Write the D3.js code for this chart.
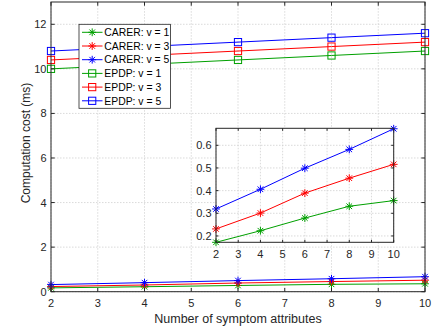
<!DOCTYPE html>
<html>
<head>
<meta charset="utf-8">
<script src="https://cdn.jsdelivr.net/npm/d3@7"></script>
<style>
  html, body { margin: 0; padding: 0; background: #fff; }
  svg { display: block; font-family: "Liberation Sans", Arial, sans-serif; }
</style>
</head>
<body>
<svg id="chart" width="442" height="329"></svg>
<script>
// attribute counts on the x axis
const attrs = [2, 4, 6, 8, 10];
// computation cost (ms)
const carerV1 = [0.172, 0.223, 0.279, 0.331, 0.356];
const carerV3 = [0.231, 0.301, 0.389, 0.455, 0.516];
const carerV5 = [0.319, 0.406, 0.499, 0.582, 0.673];
const epdpV1 = [10.0, 10.2, 10.4, 10.6, 10.8];
const epdpV3 = [10.4, 10.6, 10.8, 11.0, 11.2];
const epdpV5 = [10.8, 11.0, 11.2, 11.4, 11.6];

const xTicks = [2, 3, 4, 5, 6, 7, 8, 9, 10];
const yTicks = [0, 2, 4, 6, 8, 10, 12];
const insetYTicks = [0.2, 0.3, 0.4, 0.5, 0.6];

const GREEN = '#00a000', RED = '#ff0000', BLUE = '#0000ff';
const series = [
  { name: 'CARER: v = 1', vals: carerV1, color: GREEN, mark: 'star' },
  { name: 'CARER: v = 3', vals: carerV3, color: RED, mark: 'star' },
  { name: 'CARER: v = 5', vals: carerV5, color: BLUE, mark: 'star' },
  { name: 'EPDP: v = 1', vals: epdpV1, color: GREEN, mark: 'square' },
  { name: 'EPDP: v = 3', vals: epdpV3, color: RED, mark: 'square' },
  { name: 'EPDP: v = 5', vals: epdpV5, color: BLUE, mark: 'square' }
];

const svg = d3.select('#chart');
const AX = '#262626';

function starPath(r) {
  const d = r * 0.72;
  return `M${-r},0L${r},0M0,${-r}L0,${r}M${-d},${-d}L${d},${d}M${-d},${d}L${d},${-d}`;
}

function drawMarker(g, s) {
  if (s.mark === 'star') {
    g.append('path').attr('d', starPath(3.9)).attr('stroke', s.color).attr('stroke-width', 1).attr('fill', 'none');
  } else {
    g.append('rect').attr('x', -3.6).attr('y', -3.6).attr('width', 7.2).attr('height', 7.2)
      .attr('fill', 'none').attr('stroke', s.color).attr('stroke-width', 1);
  }
}

function drawMarks(g, s, x, y) {
  const line = d3.line().x((d, i) => x(attrs[i])).y(d => y(d));
  g.append('path').attr('d', line(s.vals)).attr('fill', 'none')
    .attr('stroke', s.color).attr('stroke-width', 1);
  g.selectAll(null).data(s.vals).enter().append('g')
    .attr('transform', (d, i) => `translate(${x(attrs[i])},${y(d)})`)
    .each(function () { drawMarker(d3.select(this), s); });
}

// dotted grid
function drawGrid(g, x, y, xt, yt) {
  const [x0, x1] = x.range(), [y0, y1] = y.range();
  xt.forEach(t => g.append('line').attr('x1', x(t)).attr('x2', x(t)).attr('y1', y0).attr('y2', y1)
    .attr('stroke', '#d0d0d0').attr('stroke-width', 0.8).attr('stroke-dasharray', '1.5,1.5'));
  yt.forEach(t => g.append('line').attr('x1', x0).attr('x2', x1).attr('y1', y(t)).attr('y2', y(t))
    .attr('stroke', '#d0d0d0').attr('stroke-width', 0.8).attr('stroke-dasharray', '1.5,1.5'));
}

function drawBox(g, x, y, xt, yt, yFmt, tl, fs) {
  const [x0, x1] = x.range(), [y0, y1] = y.range();
  xt.forEach(t => {
    g.append('line').attr('x1', x(t)).attr('x2', x(t)).attr('y1', y0).attr('y2', y0 - tl).attr('stroke', AX);
    g.append('line').attr('x1', x(t)).attr('x2', x(t)).attr('y1', y1).attr('y2', y1 + tl).attr('stroke', AX);
    g.append('text').attr('x', x(t)).attr('y', y0 + 15.3).attr('text-anchor', 'middle')
      .attr('font-size', fs).attr('fill', AX).text(t);
  });
  yt.forEach(t => {
    g.append('line').attr('x1', x0).attr('x2', x0 + tl).attr('y1', y(t)).attr('y2', y(t)).attr('stroke', AX);
    g.append('line').attr('x1', x1).attr('x2', x1 - tl).attr('y1', y(t)).attr('y2', y(t)).attr('stroke', AX);
    g.append('text').attr('x', x0 - 4.5).attr('y', y(t) + 4).attr('text-anchor', 'end')
      .attr('font-size', fs).attr('fill', AX).text(yFmt(t));
  });
  g.append('rect').attr('x', x0).attr('y', y1).attr('width', x1 - x0).attr('height', y0 - y1)
    .attr('fill', 'none').attr('stroke', AX).attr('stroke-width', 1);
}

// main axes
const x = d3.scaleLinear().domain([2, 10]).range([51, 425]);
const y = d3.scaleLinear().domain([0, 13]).range([291.7, 2]);
const main = svg.append('g');
drawGrid(main, x, y, xTicks, yTicks);
series.forEach(s => drawMarks(main, s, x, y));
drawBox(main, x, y, xTicks, yTicks, d => d, 3.7, 11);

main.append('text').attr('x', 238).attr('y', 323).attr('text-anchor', 'middle')
  .attr('font-size', 12.5).attr('fill', AX).text('Number of symptom attributes');
main.append('text').attr('transform', 'translate(29.5,143) rotate(-90)').attr('text-anchor', 'middle')
  .attr('font-size', 12).attr('fill', AX).text('Computation cost (ms)');

// inset with the CARER series only
const xi = d3.scaleLinear().domain([2, 10]).range([216, 393.7]);
const yi = d3.scaleLinear().domain([0.172, 0.675]).range([242.3, 128.3]);
const inset = svg.append('g');
inset.append('rect').attr('x', 216).attr('y', 128.3).attr('width', 177.7).attr('height', 114).attr('fill', '#fff');
drawGrid(inset, xi, yi, xTicks, insetYTicks);
series.filter(s => s.mark === 'star').forEach(s => drawMarks(inset, s, xi, yi));
drawBox(inset, xi, yi, xTicks, insetYTicks, d3.format('.1f'), 2.5, 11);

// legend
const lg = svg.append('g');
lg.append('rect').attr('x', 79).attr('y', 24.3).attr('width', 91.5).attr('height', 84)
  .attr('fill', '#fff').attr('stroke', AX).attr('stroke-width', 0.8);
series.forEach((s, i) => {
  const ly = 32.3 + i * 13.7;
  lg.append('line').attr('x1', 82).attr('x2', 102.5).attr('y1', ly).attr('y2', ly)
    .attr('stroke', s.color).attr('stroke-width', 1);
  drawMarker(lg.append('g').attr('transform', `translate(92.2,${ly})`), s);
  lg.append('text').attr('x', 104.3).attr('y', ly + 3.7).attr('font-size', 10.4)
    .attr('fill', '#000').text(s.name);
});
</script>
</body>
</html>
